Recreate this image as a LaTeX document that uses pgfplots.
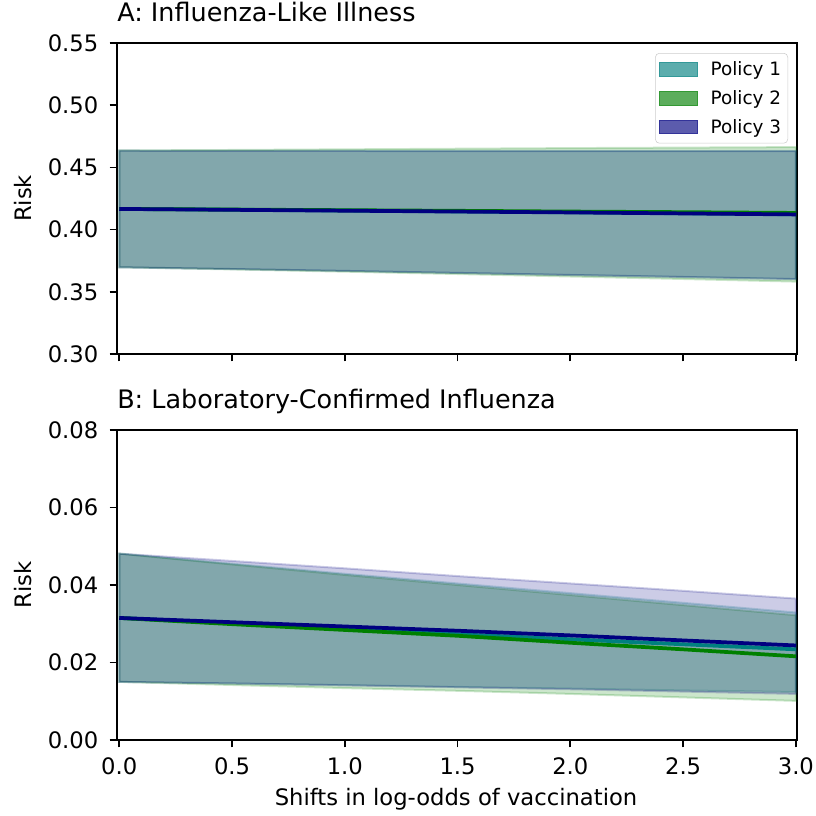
\documentclass[border=0pt]{standalone}
\usepackage{fontspec}
\setmainfont{DejaVu Sans}
\usepackage{pgfplots}
\pgfplotsset{compat=1.18}
\definecolor{cteal}{RGB}{0,128,128}
\definecolor{cgreen}{RGB}{0,128,0}
\definecolor{cnavy}{RGB}{0,0,128}
\definecolor{lteal}{RGB}{51,153,153}
\definecolor{lgreen}{RGB}{51,153,51}
\definecolor{lnavy}{RGB}{51,51,153}

\pgfplotsset{
  myaxis/.style={
    scale only axis,
    width=510pt,
    xmin=-0.01, xmax=3.005,
    xtick={0,0.5,1,1.5,2,2.5,3},
    xtick pos=bottom, ytick pos=left,
    tick align=outside,
    major tick length=5.5pt,
    axis line style={line width=1.4pt},
    every tick/.style={black, line width=1.3pt},
    scaled ticks=false,
    /pgf/number format/assume math mode=true,
    tick label style={font=\fontsize{17}{20}\selectfont},
    label style={font=\fontsize{17}{20}\selectfont},
    title style={font=\fontsize{19.1}{22}\selectfont, at={(axis description cs:0,1.042)}, anchor=base west, inner sep=0pt},
    every axis y label/.style={at={(axis description cs:-0.138,0.5)}, rotate=90, anchor=center, font=\fontsize{17}{20}\selectfont},
    yticklabel style={xshift=-5pt, /pgf/number format/.cd, fixed, fixed zerofill, precision=2},
    xticklabel style={yshift=-4.5pt},
  },
  band/.style={fill=#1, fill opacity=0.2, draw=#1, draw opacity=0.2, line width=1.5pt, forget plot},
  mid/.style={#1, line width=2.8pt, forget plot},
}

\begin{document}
\begin{tikzpicture}
\path[use as bounding box] (0,0) rectangle (612pt,611.25pt);

\begin{axis}[myaxis,
  at={(87.75pt,345.75pt)}, anchor=south west,
  height=233.25pt,
  ymin=0.30, ymax=0.55, ytick={0.30,0.35,0.40,0.45,0.50,0.55},
  xticklabels={},
  title={A: Influenza-Like Illness},
  ylabel={Risk},
  legend cell align=left,
  legend style={at={(rel axis cs:0.9868,0.9678)}, anchor=north east,
    draw=black!20, rounded corners=3pt, fill=white, fill opacity=0.8, text opacity=1,
    font=\fontsize{13.8}{16}\selectfont, row sep=5.75pt, inner xsep=3pt, inner ysep=4pt},
  legend image code/.code={\fill[#1, sharp corners] (0pt,-4.9pt) rectangle (28.5pt,4.9pt); \path (36pt,0pt);},
]
\addplot[band=cteal] table[row sep=\\]{x y\\ 0 0.4634\\ 0.5 0.4634\\ 1 0.4634\\ 1.5 0.4633\\ 2 0.4633\\ 2.5 0.4633\\ 3 0.4632\\
  3 0.3603\\ 2.5 0.3620\\ 2 0.3636\\ 1.5 0.3652\\ 1 0.3668\\ 0.5 0.3683\\ 0 0.3697\\} -- cycle;
\addplot[band=cgreen] table[row sep=\\]{x y\\ 0 0.4636\\ 0.5 0.4640\\ 1 0.4645\\ 1.5 0.4650\\ 2 0.4655\\ 2.5 0.4659\\ 3 0.4663\\
  3 0.3582\\ 2.5 0.3603\\ 2 0.3623\\ 1.5 0.3643\\ 1 0.3662\\ 0.5 0.3680\\ 0 0.3697\\} -- cycle;
\addplot[band=cnavy] table[row sep=\\]{x y\\ 0 0.4634\\ 0.5 0.4633\\ 1 0.4632\\ 1.5 0.4631\\ 2 0.4630\\ 2.5 0.4630\\ 3 0.4630\\
  3 0.3602\\ 2.5 0.3619\\ 2 0.3635\\ 1.5 0.3652\\ 1 0.3668\\ 0.5 0.3683\\ 0 0.3697\\} -- cycle;
\addplot[mid=cteal] table[row sep=\\]{x y\\ 0 0.4166\\ 0.5 0.4160\\ 1 0.4153\\ 1.5 0.4146\\ 2 0.4139\\ 2.5 0.4131\\ 3 0.4123\\};
\addplot[mid=cgreen] table[row sep=\\]{x y\\ 0 0.4166\\ 0.5 0.4161\\ 1 0.4156\\ 1.5 0.4151\\ 2 0.4145\\ 2.5 0.4140\\ 3 0.4134\\};
\addplot[mid=cnavy] table[row sep=\\]{x y\\ 0 0.4166\\ 0.5 0.4159\\ 1 0.4152\\ 1.5 0.4145\\ 2 0.4138\\ 2.5 0.4130\\ 3 0.4122\\};
\addlegendimage{fill=lteal, draw=lteal}
\addlegendentry{Policy 1}
\addlegendimage{fill=lgreen, draw=lgreen}
\addlegendentry{Policy 2}
\addlegendimage{fill=lnavy, draw=lnavy}
\addlegendentry{Policy 3}
\end{axis}

\begin{axis}[myaxis,
  at={(87.75pt,56.25pt)}, anchor=south west,
  height=232.5pt,
  ymin=0, ymax=0.08, ytick={0,0.02,0.04,0.06,0.08},
  xticklabel style={/pgf/number format/.cd, fixed, fixed zerofill, precision=1},
  title={B: Laboratory-Confirmed Influenza},
  ylabel={Risk},
  xlabel={Shifts in log-odds of vaccination},
  xlabel style={at={(axis description cs:0.4985,-0.19)}, anchor=center},
]
\addplot[band=cteal] table[row sep=\\]{x y\\ 0 0.0481\\ 0.5 0.0455\\ 1 0.0429\\ 1.5 0.0404\\ 2 0.0379\\ 2.5 0.0354\\ 3 0.0329\\
  3 0.0124\\ 2.5 0.0128\\ 2 0.0133\\ 1.5 0.0137\\ 1 0.0142\\ 0.5 0.0146\\ 0 0.0150\\} -- cycle;
\addplot[band=cgreen] table[row sep=\\]{x y\\ 0 0.0481\\ 0.5 0.0453\\ 1 0.0426\\ 1.5 0.0400\\ 2 0.0374\\ 2.5 0.0348\\ 3 0.0322\\
  3 0.0101\\ 2.5 0.0110\\ 2 0.0119\\ 1.5 0.0127\\ 1 0.0134\\ 0.5 0.0142\\ 0 0.0150\\} -- cycle;
\addplot[band=cnavy] table[row sep=\\]{x y\\ 0 0.0481\\ 0.5 0.0462\\ 1 0.0443\\ 1.5 0.0423\\ 2 0.0404\\ 2.5 0.0385\\ 3 0.0365\\
  3 0.0119\\ 2.5 0.0125\\ 2 0.0131\\ 1.5 0.0136\\ 1 0.0141\\ 0.5 0.0146\\ 0 0.0150\\} -- cycle;
\addplot[mid=cteal] table[row sep=\\]{x y\\ 0 0.0315\\ 0.5 0.0301\\ 1 0.0287\\ 1.5 0.0273\\ 2 0.0260\\ 2.5 0.0247\\ 3 0.0234\\};
\addplot[mid=cgreen] table[row sep=\\]{x y\\ 0 0.0315\\ 0.5 0.0299\\ 1 0.0284\\ 1.5 0.0269\\ 2 0.0251\\ 2.5 0.0234\\ 3 0.0216\\};
\addplot[mid=cnavy] table[row sep=\\]{x y\\ 0 0.0315\\ 0.5 0.0304\\ 1 0.0293\\ 1.5 0.0282\\ 2 0.0270\\ 2.5 0.0257\\ 3 0.0244\\};
\end{axis}
\end{tikzpicture}
\end{document}
